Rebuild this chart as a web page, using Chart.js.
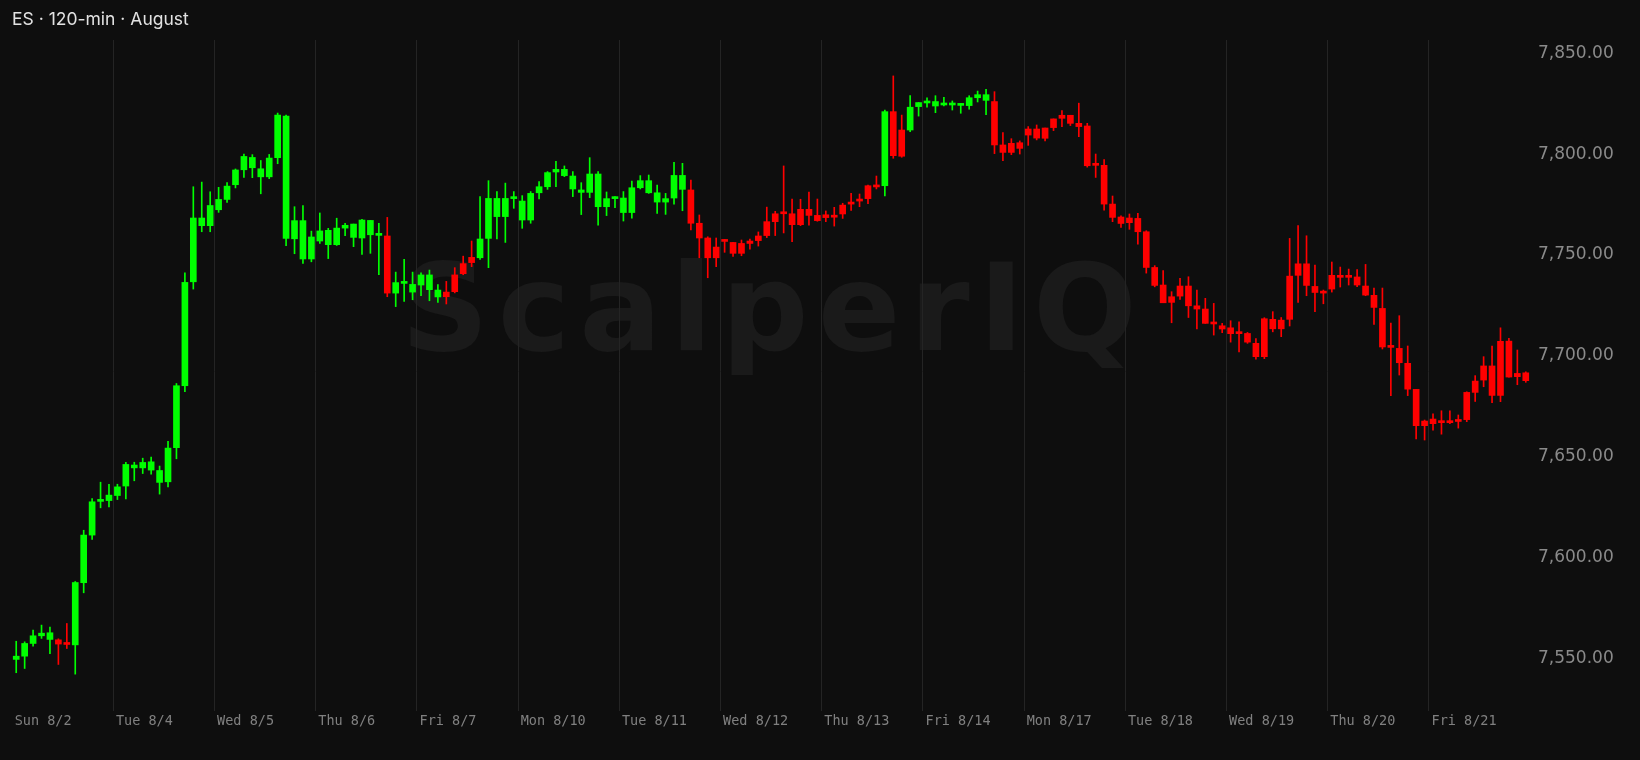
<!DOCTYPE html>
<html lang="en">
<head>
    <meta charset="UTF-8">
    <title>ES 120-min August</title>
    <script src="https://cdn.jsdelivr.net/npm/chart.js"></script>
    <style>
        html, body { margin: 0; padding: 0; background: #0e0e0e; }
        #wrap { position: relative; width: 1640px; height: 760px; overflow: hidden; }
        #title { position: absolute; left: 12px; top: 8px; font: 400 17.5px Inter, sans-serif; color: #e2e2e2; }
        canvas { position: absolute; left: 0; top: 0; }
    </style>
</head>
<body>
<div id="wrap">
    <canvas id="chart" width="1640" height="760"></canvas>
    <div id="title">ES · 120-min · August</div>
</div>

<script>
    // one label per session, 12 two-hour bars per session
    const dayLabels = ['Sun 8/2', 'Tue 8/4', 'Wed 8/5', 'Thu 8/6', 'Fri 8/7', 'Mon 8/10', 'Tue 8/11', 'Wed 8/12',
        'Thu 8/13', 'Fri 8/14', 'Mon 8/17', 'Tue 8/18', 'Wed 8/19', 'Thu 8/20', 'Fri 8/21'];
    const barsPerDay = 12;
    const priceTicks = [7550, 7600, 7650, 7700, 7750, 7800, 7850];

    const opens = [
        7548.4, 7550.0, 7556.3, 7560.1, 7561.6, 7558.1, 7555.8, 7555.6, 7586.4, 7610.0, 7626.7, 7627.1,
        7629.6, 7634.3, 7644.7, 7643.3, 7646.3, 7642.0, 7636.4, 7653.3, 7684.0, 7735.5, 7767.1, 7763.3,
        7771.2, 7776.3, 7783.6, 7791.0, 7797.1, 7791.5, 7787.5, 7797.0, 7817.6, 7756.8, 7765.8, 7746.8,
        7755.7, 7761.0, 7753.9, 7762.1, 7764.1, 7757.2, 7765.9, 7758.5, 7758.2, 7729.9, 7734.7, 7734.2,
        7733.9, 7738.9, 7731.4, 7728.1, 7730.6, 7739.5, 7745.0, 7747.4, 7757.0, 7776.8, 7767.8, 7776.7,
        7775.5, 7766.1, 7779.6, 7782.6, 7789.9, 7791.2, 7787.9, 7781.0, 7779.8, 7788.9, 7772.7, 7776.7,
        7777.0, 7769.8, 7782.1, 7785.6, 7779.6, 7775.0, 7777.0, 7788.2, 7781.0, 7764.5, 7757.2, 7747.4,
        7755.5, 7755.0, 7749.6, 7754.5, 7755.9, 7758.4, 7765.3, 7769.2, 7769.2, 7763.8, 7771.4, 7768.4,
        7767.3, 7767.5, 7769.1, 7774.0, 7775.5, 7776.7, 7783.4, 7783.1, 7819.8, 7797.7, 7810.7, 7822.3,
        7824.1, 7824.8, 7823.1, 7823.1, 7823.9, 7822.8, 7826.7, 7828.2, 7824.8, 7803.3, 7799.6, 7804.4,
        7808.2, 7811.2, 7806.6, 7811.9, 7816.5, 7818.0, 7814.0, 7812.7, 7793.2, 7793.2, 7774.0, 7767.6,
        7764.8, 7766.9, 7760.3, 7742.6, 7733.9, 7725.3, 7728.4, 7733.4, 7723.6, 7722.0, 7714.6, 7713.7,
        7712.7, 7709.8, 7709.9, 7705.0, 7698.4, 7716.9, 7712.2, 7716.9, 7738.7, 7744.4, 7733.2, 7730.2,
        7731.9, 7738.7, 7737.7, 7737.9, 7733.4, 7728.8, 7722.3, 7703.0, 7702.5, 7695.1, 7682.2, 7664.2,
        7665.2, 7665.7, 7665.7, 7666.3, 7667.2, 7680.7, 7686.8, 7693.8, 7679.2, 7706.1, 7688.5, 7690.4
    ];
    const highs = [
        7557.4, 7557.1, 7562.9, 7565.4, 7564.4, 7558.6, 7566.2, 7587.0, 7612.4, 7628.1, 7636.2, 7635.2,
        7635.2, 7646.1, 7646.1, 7648.1, 7648.6, 7644.2, 7656.4, 7685.1, 7740.0, 7782.6, 7784.9, 7780.1,
        7782.3, 7784.7, 7791.4, 7798.8, 7798.5, 7795.6, 7798.6, 7819.1, 7818.1, 7772.7, 7773.3, 7760.6,
        7769.6, 7762.0, 7767.0, 7764.5, 7764.1, 7766.4, 7765.9, 7764.5, 7767.4, 7740.3, 7746.6, 7740.3,
        7740.0, 7741.3, 7734.1, 7735.7, 7742.5, 7748.2, 7755.7, 7777.7, 7785.6, 7780.2, 7784.4, 7780.2,
        7778.2, 7780.2, 7785.1, 7790.1, 7795.2, 7792.9, 7790.1, 7784.6, 7797.0, 7790.1, 7780.0, 7777.7,
        7780.2, 7785.4, 7788.1, 7788.4, 7783.4, 7779.3, 7794.7, 7794.2, 7785.9, 7768.6, 7757.8, 7757.2,
        7756.5, 7755.0, 7756.2, 7756.7, 7760.2, 7772.5, 7770.4, 7792.9, 7776.5, 7776.4, 7780.0, 7776.5,
        7770.6, 7772.4, 7774.4, 7779.3, 7779.0, 7783.4, 7787.9, 7820.6, 7837.5, 7818.1, 7827.7, 7824.3,
        7826.6, 7827.7, 7826.9, 7825.1, 7823.9, 7827.7, 7830.0, 7830.9, 7829.7, 7809.4, 7806.4, 7805.3,
        7812.4, 7813.2, 7811.7, 7816.2, 7820.3, 7818.0, 7824.0, 7814.0, 7798.8, 7796.1, 7778.0, 7768.2,
        7769.1, 7769.4, 7760.8, 7743.5, 7741.1, 7730.6, 7737.2, 7738.0, 7731.4, 7727.3, 7724.8, 7714.9,
        7716.2, 7715.7, 7710.4, 7707.4, 7717.7, 7720.7, 7717.8, 7757.0, 7763.4, 7758.3, 7743.8, 7731.4,
        7745.3, 7742.8, 7741.8, 7741.6, 7744.1, 7732.4, 7732.4, 7715.1, 7718.7, 7703.7, 7682.2, 7667.0,
        7670.1, 7671.6, 7671.6, 7669.5, 7681.0, 7689.0, 7698.4, 7703.7, 7712.7, 7707.5, 7701.7, 7690.9
    ];
    const lows = [
        7541.8, 7543.9, 7555.0, 7558.8, 7551.2, 7545.9, 7553.8, 7541.1, 7581.4, 7607.8, 7623.5, 7624.0,
        7627.6, 7627.9, 7636.9, 7640.5, 7640.2, 7630.3, 7633.9, 7647.8, 7681.0, 7731.9, 7760.3, 7760.3,
        7769.9, 7774.8, 7782.0, 7787.2, 7787.1, 7779.1, 7786.6, 7794.0, 7753.4, 7749.4, 7744.6, 7745.4,
        7754.5, 7747.0, 7753.5, 7758.3, 7752.9, 7749.0, 7749.6, 7739.0, 7728.1, 7723.2, 7725.8, 7726.6,
        7728.6, 7726.1, 7725.3, 7724.5, 7730.0, 7739.0, 7743.0, 7746.6, 7742.5, 7756.7, 7755.0, 7771.9,
        7762.0, 7764.5, 7776.5, 7781.3, 7782.6, 7787.6, 7777.7, 7768.8, 7777.2, 7763.5, 7768.3, 7772.2,
        7765.6, 7767.0, 7781.5, 7779.3, 7769.4, 7768.9, 7774.0, 7770.7, 7761.2, 7747.4, 7737.5, 7743.0,
        7750.1, 7748.1, 7748.4, 7751.7, 7753.2, 7757.4, 7758.4, 7759.7, 7755.4, 7763.3, 7763.5, 7765.5,
        7765.3, 7763.1, 7766.9, 7770.9, 7772.7, 7774.2, 7781.5, 7778.0, 7796.7, 7797.2, 7809.9, 7817.6,
        7822.0, 7819.3, 7822.6, 7820.6, 7819.0, 7821.0, 7824.6, 7818.3, 7799.0, 7795.5, 7798.5, 7798.8,
        7803.1, 7805.8, 7805.3, 7810.4, 7812.4, 7812.9, 7807.4, 7792.3, 7787.2, 7771.0, 7765.3, 7762.4,
        7761.5, 7754.2, 7739.8, 7733.0, 7725.1, 7715.2, 7726.8, 7717.8, 7712.1, 7714.9, 7709.1, 7710.3,
        7705.6, 7700.8, 7705.0, 7697.2, 7697.4, 7710.7, 7708.3, 7713.6, 7725.3, 7728.6, 7720.7, 7724.6,
        7730.4, 7732.9, 7733.9, 7733.1, 7728.6, 7714.4, 7702.2, 7679.1, 7689.3, 7679.1, 7657.6, 7657.1,
        7662.0, 7660.0, 7665.2, 7663.0, 7666.2, 7676.2, 7683.5, 7675.6, 7676.1, 7688.3, 7684.5, 7685.7
    ];
    const closes = [
        7550.0, 7556.3, 7560.1, 7561.4, 7558.3, 7556.0, 7555.8, 7586.5, 7610.0, 7626.5, 7626.7, 7629.8,
        7633.9, 7645.0, 7643.3, 7646.0, 7642.2, 7636.1, 7653.1, 7684.0, 7735.2, 7767.1, 7763.3, 7773.3,
        7776.3, 7782.9, 7790.9, 7797.6, 7792.0, 7787.5, 7796.8, 7818.1, 7757.0, 7765.8, 7746.8, 7757.7,
        7760.7, 7753.9, 7762.1, 7763.5, 7757.5, 7766.1, 7758.8, 7758.5, 7729.9, 7735.1, 7734.7, 7730.4,
        7738.9, 7731.6, 7728.0, 7730.4, 7738.9, 7744.5, 7747.6, 7756.7, 7776.8, 7767.8, 7776.8, 7776.7,
        7766.1, 7779.3, 7782.6, 7789.6, 7791.2, 7788.1, 7781.5, 7779.8, 7788.9, 7772.7, 7776.7, 7776.7,
        7769.8, 7782.1, 7785.6, 7779.6, 7775.0, 7776.7, 7788.2, 7781.3, 7764.5, 7757.2, 7747.4, 7752.7,
        7755.7, 7749.6, 7754.5, 7755.7, 7758.2, 7765.3, 7769.2, 7769.2, 7763.8, 7771.4, 7768.4, 7765.8,
        7768.7, 7768.5, 7773.5, 7775.0, 7776.5, 7783.1, 7782.5, 7819.8, 7798.0, 7810.7, 7822.0, 7824.3,
        7824.9, 7822.6, 7823.1, 7823.9, 7822.9, 7826.7, 7828.2, 7825.4, 7803.3, 7799.6, 7804.1, 7801.6,
        7811.2, 7806.7, 7811.7, 7816.2, 7818.0, 7814.0, 7812.4, 7793.0, 7793.2, 7774.0, 7767.4, 7764.4,
        7767.1, 7760.3, 7742.6, 7733.7, 7725.1, 7728.1, 7733.4, 7723.6, 7722.0, 7714.9, 7714.6, 7712.1,
        7709.8, 7709.8, 7705.6, 7698.4, 7717.2, 7712.2, 7716.5, 7738.3, 7744.4, 7733.7, 7730.2, 7729.9,
        7738.7, 7737.7, 7738.0, 7733.9, 7728.9, 7722.8, 7703.2, 7703.0, 7695.4, 7682.3, 7664.2, 7666.5,
        7667.5, 7665.7, 7666.3, 7666.8, 7680.7, 7686.3, 7693.8, 7679.2, 7706.0, 7688.3, 7690.1, 7686.5
    ];
    // trend regime runs: [number of bars, 1 = up (green) / -1 = down (red)]
    const trendRuns = [[5, 1], [2, -1], [37, 1], [1, -1], [6, 1], [4, -1], [25, 1], [23, -1], [1, 1], [2, -1], [10, 1], [64, -1]];

    const UP = '#00ff00';
    const DOWN = '#ff0000';

    const candleColors = [];
    trendRuns.forEach(([n, dir]) => {
        for (let k = 0; k < n; k++) candleColors.push(dir > 0 ? UP : DOWN);
    });

    const labels = opens.map((_, i) => i % barsPerDay === 0 ? dayLabels[i / barsPerDay] : '');

    const watermark = {
        id: 'watermark',
        beforeDraw(chart) {
            const c = chart.ctx;
            c.save();
            c.font = '700 122px "DejaVu Sans"';
            c.letterSpacing = '9px';
            c.fillStyle = '#1a1a1a';
            c.textBaseline = 'alphabetic';
            c.fillText('ScalperIQ', 401, 350);
            c.restore();
        }
    };

    new Chart(document.getElementById('chart'), {
        type: 'bar',
        data: {
            labels: labels,
            datasets: [
                {
                    label: 'body',
                    data: opens.map((o, i) => [o, closes[i]]),
                    backgroundColor: candleColors,
                    barThickness: 6,
                    minBarLength: 2,
                    grouped: false,
                    order: 0
                },
                {
                    label: 'wick',
                    data: lows.map((l, i) => [l, highs[i]]),
                    backgroundColor: candleColors,
                    barThickness: 1,
                    grouped: false,
                    order: 1
                }
            ]
        },
        options: {
            responsive: false,
            animation: false,
            layout: { padding: { left: 12, top: 40, right: 0, bottom: 0 } },
            plugins: {
                legend: { display: false },
                tooltip: { enabled: false },
                title: { display: false }
            },
            scales: {
                x: {
                    offset: true,
                    border: { display: false },
                    grid: {
                        offset: true,
                        tickLength: 8,
                        color: ctx => (ctx.index > 0 && ctx.index < opens.length && ctx.index % barsPerDay === 0) ? '#242424' : 'rgba(0,0,0,0)'
                    },
                    ticks: {
                        autoSkip: false,
                        maxRotation: 0,
                        minRotation: 0,
                        align: 'start',
                        labelOffset: -1.5,
                        padding: 2,
                        color: '#808080',
                        font: { family: 'DejaVu Sans Mono', size: 13.5 }
                    },
                    afterFit: s => { s.height = 57; }
                },
                y: {
                    position: 'right',
                    min: 7526.8,
                    max: 7855.3,
                    border: { display: false },
                    grid: { display: false },
                    afterBuildTicks: s => { s.ticks = priceTicks.map(v => ({ value: v })); },
                    afterFit: s => { s.width = 110; },
                    ticks: {
                        padding: 0,
                        labelOffset: 2.5,
                        color: '#8a8a8a',
                        font: { family: 'DejaVu Sans', size: 17 },
                        callback: v => v.toLocaleString('en-US', { minimumFractionDigits: 2, maximumFractionDigits: 2 })
                    }
                }
            }
        },
        plugins: [watermark]
    });
</script>
</body>
</html>
